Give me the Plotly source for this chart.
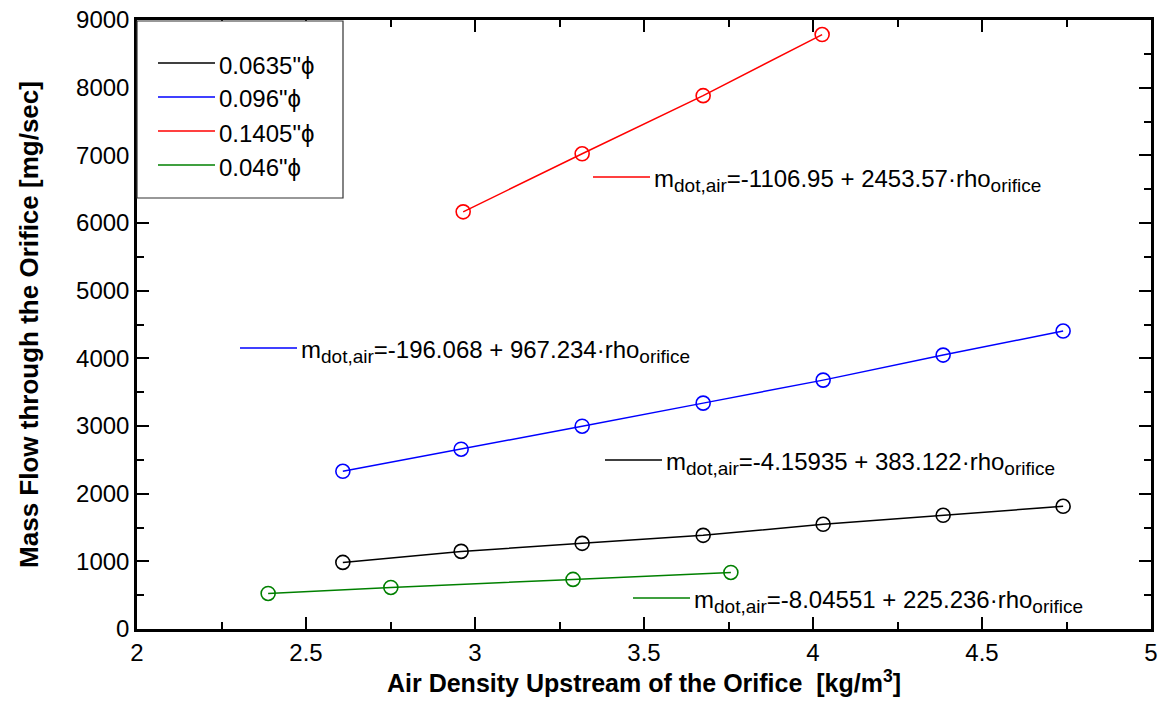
import plotly.graph_objects as go

# ---- data ----
rho_black = [2.609, 2.959, 3.317, 3.675, 4.030, 4.385, 4.740]
mdot_black = [984, 1147, 1266, 1384, 1547, 1680, 1813]

rho_blue = [2.609, 2.959, 3.317, 3.675, 4.030, 4.385, 4.740]
mdot_blue = [2331, 2657, 2997, 3338, 3678, 4048, 4403]

rho_red = [2.965, 3.317, 3.675, 4.027]
mdot_red = [6165, 7023, 7882, 8785]

rho_green = [2.388, 2.751, 3.290, 3.757]
mdot_green = [525, 614, 733, 836]

legend_labels = ['0.0635"ϕ', '0.096"ϕ', '0.1405"ϕ', '0.046"ϕ']
SUB = '<sub><span style="font-size:19px">{}</span></sub>'
fit_labels = [
    "m" + SUB.format("dot,air") + "=-4.15935 + 383.122·rho" + SUB.format("orifice"),
    "m" + SUB.format("dot,air") + "=-196.068 + 967.234·rho" + SUB.format("orifice"),
    "m" + SUB.format("dot,air") + "=-1106.95 + 2453.57·rho" + SUB.format("orifice"),
    "m" + SUB.format("dot,air") + "=-8.04551 + 225.236·rho" + SUB.format("orifice"),
]
colors = ["#000000", "#0000ff", "#ff0000", "#008000"]

series = [(rho_black, mdot_black), (rho_blue, mdot_blue),
          (rho_red, mdot_red), (rho_green, mdot_green)]

FONT = "Liberation Sans, Arial, sans-serif"
W, H = 1159, 704
ML, MR, MT, MB = 137, 8, 20, 75
PW, PH = W - ML - MR, H - MT - MB


def px2x(px):
    return (px - ML) / PW


def px2y(py):
    return (H - MB - py) / PH


fig = go.Figure()
for (xs, ys), c, name in zip(series, colors, legend_labels):
    fig.add_trace(go.Scatter(
        x=xs, y=ys, mode="lines+markers", name=name, showlegend=False,
        line=dict(color=c, width=1.5),
        marker=dict(symbol="circle-open", size=14, color=c, line=dict(width=1.6, color=c)),
    ))

shapes = []
annotations = []

# legend box (manual, drawn over axis corner)
shapes.append(dict(type="rect", xref="paper", yref="paper",
                   x0=px2x(137), x1=px2x(343), y0=px2y(198), y1=px2y(21),
                   fillcolor="white", line=dict(color="#333333", width=1.2),
                   layer="above"))
leg_y = [63, 97, 131, 165]
for name, c, ly in zip(legend_labels, colors, leg_y):
    shapes.append(dict(type="line", xref="paper", yref="paper",
                       x0=px2x(158), x1=px2x(215), y0=px2y(ly), y1=px2y(ly),
                       line=dict(color=c, width=1.5), layer="above"))
    annotations.append(dict(xref="paper", yref="paper", x=px2x(217), y=px2y(ly + 2),
                            text=name, showarrow=False, xanchor="left", yanchor="middle",
                            font=dict(family=FONT, size=24, color="black")))

# fit equation labels
fit_pos = [(605, 460), (240, 348), (593, 177), (633, 598)]  # black, blue, red, green
for txt, c, (lx, ly) in zip(fit_labels, colors, fit_pos):
    shapes.append(dict(type="line", xref="paper", yref="paper",
                       x0=px2x(lx), x1=px2x(lx + 57), y0=px2y(ly), y1=px2y(ly),
                       line=dict(color=c, width=1.5), layer="above"))
    annotations.append(dict(xref="paper", yref="paper", x=px2x(lx + 59), y=px2y(ly + 3),
                            text=txt, showarrow=False, xanchor="left", yanchor="middle",
                            font=dict(family=FONT, size=24, color="black")))

fig.update_layout(
    width=W, height=H,
    margin=dict(l=ML, r=MR, t=MT, b=MB),
    plot_bgcolor="white", paper_bgcolor="white",
    font=dict(family=FONT, size=20, color="black"),
    shapes=shapes, annotations=annotations,
    showlegend=False,
)
fig.update_xaxes(
    range=[2, 5], dtick=0.5, tick0=2,
    showgrid=False, zeroline=False, automargin=False,
    showline=True, linecolor="black", linewidth=2.5, mirror="ticks",
    ticks="inside", ticklen=12, tickwidth=2, tickcolor="black",
    minor=dict(ticks="inside", ticklen=7, tickwidth=1.5, tickcolor="black", dtick=0.25, showgrid=False),
    tickfont=dict(family=FONT, size=24), ticklabeloverflow="allow",
    title=dict(text="<b>Air Density Upstream of the Orifice  [kg/m<sup>3</sup>]</b>",
               font=dict(family=FONT, size=25), standoff=6),
)
fig.update_yaxes(
    range=[0, 9000], dtick=1000, tick0=0,
    showgrid=False, zeroline=False, automargin=False,
    showline=True, linecolor="black", linewidth=2.5, mirror="ticks",
    ticks="inside", ticklen=12, tickwidth=2, tickcolor="black",
    minor=dict(ticks="inside", ticklen=7, tickwidth=1.5, tickcolor="black", dtick=500, showgrid=False),
    tickfont=dict(family=FONT, size=24), ticklabeloverflow="allow",
    title=dict(text="<b>Mass Flow through the Orifice [mg/sec]</b>",
               font=dict(family=FONT, size=26), standoff=30),
)

fig.write_html("out.html", config={"displayModeBar": False},
               post_script="document.body.style.margin='0';document.body.style.overflow='hidden';")
